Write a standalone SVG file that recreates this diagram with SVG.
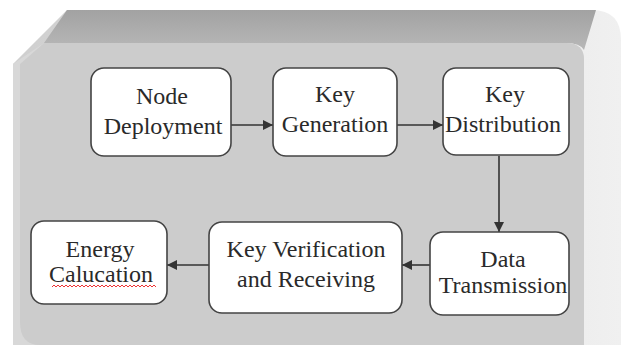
<svg xmlns="http://www.w3.org/2000/svg" width="627" height="345" viewBox="0 0 627 345">
<defs>
<linearGradient id="band" x1="0" y1="0" x2="0" y2="1">
<stop offset="0" stop-color="#a2a2a2"/>
<stop offset="1" stop-color="#b8b8b8"/>
</linearGradient>
<linearGradient id="rbev" x1="0" y1="0" x2="1" y2="0">
<stop offset="0" stop-color="#cfcfcf"/>
<stop offset="1" stop-color="#f0f0f0"/>
</linearGradient>
<marker id="ah" viewBox="0 0 10 10" refX="10" refY="5" markerWidth="10" markerHeight="10" markerUnits="userSpaceOnUse" orient="auto">
<path d="M0,0 L10,5 L0,10 Z" fill="#333"/>
</marker>
</defs>
<rect width="627" height="345" fill="#fff"/>
<g id="frame">
<path d="M67,10 H592 Q621,10 621,40 V345 H13 V64 Z" fill="url(#rbev)"/>
<path d="M67,10 H596 L584,50 Q580,43 566,43 H44 Z" fill="url(#band)"/>
<path d="M13,64 L44,43 H566 Q584,43 584,60 V345 H13 Z" fill="#d8d8d8"/>
<path d="M20,64 L44,43 H566 Q584,43 584,60 V345 H40 Q20,345 20,322 Z" fill="#cccccc"/>
</g>
<g id="connectors" stroke="#333" stroke-width="1.6" fill="none" marker-end="url(#ah)">
<line x1="231" y1="125" x2="273" y2="125"/>
<line x1="397" y1="125" x2="443" y2="125"/>
<line x1="499" y1="156" x2="499" y2="232"/>
<line x1="430" y1="265" x2="402" y2="265"/>
<line x1="209" y1="265" x2="167" y2="265"/>
</g>
<g id="nodes" font-family="Liberation Serif" font-size="24" text-anchor="middle">
<g id="node-deployment">
<rect x="91" y="68" width="140" height="88" rx="13" fill="#fff" stroke="#444" stroke-width="1.6"/>
<text x="162" y="104" fill="#2a2a2a">Node</text>
<text x="163" y="134" fill="#2a2a2a">Deployment</text>
</g>
<g id="key-generation">
<rect x="273" y="68" width="124" height="88" rx="13" fill="#fff" stroke="#444" stroke-width="1.6"/>
<text x="335" y="102" fill="#2a2a2a">Key</text>
<text x="335" y="132" fill="#2a2a2a">Generation</text>
</g>
<g id="key-distribution">
<rect x="443" y="68" width="126" height="87" rx="13" fill="#fff" stroke="#444" stroke-width="1.6"/>
<text x="505" y="102" fill="#2a2a2a">Key</text>
<text x="503" y="132" fill="#2a2a2a">Distribution</text>
</g>
<g id="data-transmission">
<rect x="430" y="232" width="139" height="83" rx="13" fill="#fff" stroke="#444" stroke-width="1.6"/>
<text x="503" y="267" fill="#2a2a2a">Data</text>
<text x="503" y="293" fill="#2a2a2a">Transmission</text>
</g>
<g id="key-verification">
<rect x="209" y="222" width="193" height="91" rx="13" fill="#fff" stroke="#444" stroke-width="1.6"/>
<text x="306" y="257" fill="#2a2a2a">Key Verification</text>
<text x="306" y="287" fill="#2a2a2a">and Receiving</text>
</g>
<g id="energy-calucation">
<rect x="31" y="221" width="136" height="83" rx="13" fill="#fff" stroke="#444" stroke-width="1.6"/>
<text x="100" y="257" fill="#2a2a2a">Energy</text>
<text x="101" y="282" fill="#2a2a2a">Calucation</text>
<path d="M52,287 l2,-2 l2,2 l2,-2 l2,2 l2,-2 l2,2 l2,-2 l2,2 l2,-2 l2,2 l2,-2 l2,2 l2,-2 l2,2 l2,-2 l2,2 l2,-2 l2,2 l2,-2 l2,2 l2,-2 l2,2 l2,-2 l2,2 l2,-2 l2,2 l2,-2 l2,2 l2,-2 l2,2 l2,-2 l2,2 l2,-2 l2,2 l2,-2 l2,2 l2,-2 l2,2 l2,-2 l2,2 l2,-2 l2,2 l2,-2 l2,2 l2,-2 l2,2 l2,-2 l2,2 l2,-2 l2,2 l2,-2 l2,2" fill="none" stroke="#e33" stroke-width="1"/>
</g>
</g>
</svg>
